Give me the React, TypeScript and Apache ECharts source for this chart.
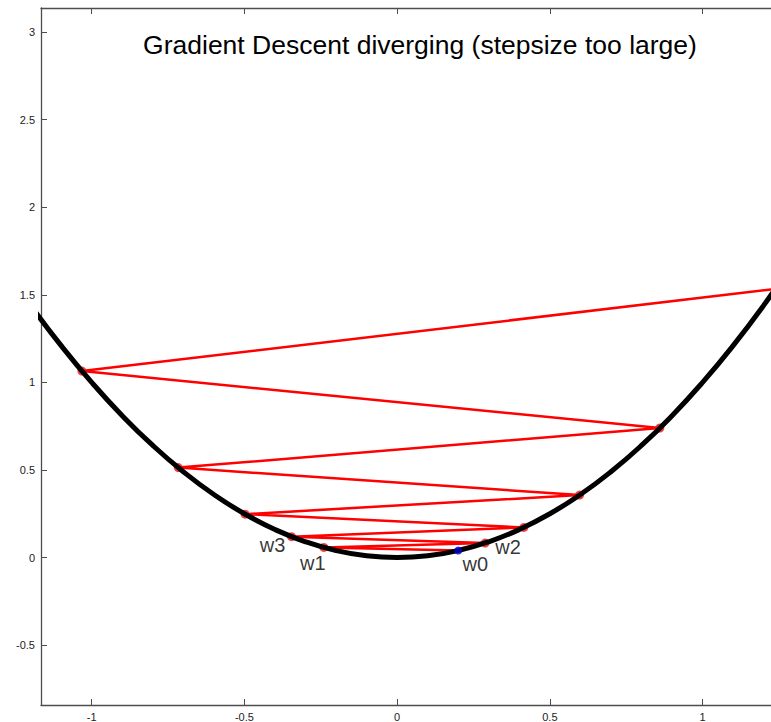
import React, { useEffect, useRef } from "react";
import * as echarts from "echarts";

// Iterates of gradient descent (x = w_k, y = f(w_k))
const iterW = [0.2, -0.24, 0.288, -0.3456, 0.4147, -0.4977, 0.5972, -0.7166, 0.86, -1.032, 1.2383];
const iterF = [0.04, 0.0576, 0.0829, 0.1194, 0.172, 0.2477, 0.3567, 0.5135, 0.7396, 1.065, 1.5335];
// number of iterates whose marker is visible
const visibleMarkers = 10;
// labelled iterates
const labelNames = ["w0", "w1", "w2", "w3"];

// Objective curve f(w) = w^2, read as points
const curveX = [-1.2, -1.1, -1.0, -0.9, -0.8, -0.7, -0.6, -0.5, -0.4, -0.3, -0.2, -0.1, 0, 0.1, 0.2, 0.3, 0.4, 0.5, 0.6, 0.7, 0.8, 0.9, 1.0, 1.1, 1.2, 1.3];
const curveY = [1.44, 1.21, 1.0, 0.81, 0.64, 0.49, 0.36, 0.25, 0.16, 0.09, 0.04, 0.01, 0, 0.01, 0.04, 0.09, 0.16, 0.25, 0.36, 0.49, 0.64, 0.81, 1.0, 1.21, 1.44, 1.69];

const xTicks = [-1, -0.5, 0, 0.5, 1];
const yTicks = [-0.5, 0, 0.5, 1, 1.5, 2, 2.5, 3];
const titleText = "Gradient Descent diverging (stepsize too large)";

const labelOffsets: Record<string, [number, number]> = {
  w0: [17, 13],
  w1: [-11, 16],
  w2: [23, 4],
  w3: [-19, 8],
};

const FONT = "'Liberation Sans', Arial, Helvetica, sans-serif";

export default function App() {
  const ref = useRef<HTMLDivElement>(null);
  useEffect(() => {
    if (!ref.current) return;
    const chart = echarts.init(ref.current, null, { renderer: "svg" });
    const path = iterW.map((w, i) => [w, iterF[i]]);
    const redMarkers = path.slice(1, visibleMarkers);
    const labelData = labelNames.map((n, i) => ({
      value: path[i],
      label: {
        show: true,
        formatter: n,
        position: "inside",
        offset: labelOffsets[n],
        fontSize: 20,
        fontFamily: FONT,
        color: "#000",
      },
    }));
    const axisCommon = {
      type: "value" as const,
      axisLine: { show: true, onZero: false, lineStyle: { color: "#4d4d4d", width: 1.3 } },
      splitLine: { show: false },
    };
    chart.setOption({
      animation: false,
      grid: { left: 41, top: 8, right: 0, bottom: 15, containLabel: false },
      xAxis: [
        {
          ...axisCommon,
          min: -1.166,
          max: 1.224,
          position: "bottom",
          axisTick: { show: true, inside: true, length: 6, customValues: xTicks, lineStyle: { color: "#4d4d4d" } },
          axisLabel: { show: true, customValues: xTicks, margin: 6, fontSize: 11, fontFamily: FONT, color: "#222" },
        },
        {
          ...axisCommon,
          min: -1.166,
          max: 1.224,
          position: "top",
          axisTick: { show: true, inside: true, length: 6, customValues: xTicks, lineStyle: { color: "#4d4d4d" } },
          axisLabel: { show: false },
        },
      ],
      yAxis: [
        {
          ...axisCommon,
          min: -0.842,
          max: 3.138,
          position: "left",
          axisTick: { show: true, inside: true, length: 6, customValues: yTicks, lineStyle: { color: "#4d4d4d" } },
          axisLabel: { show: true, customValues: yTicks, margin: 6, fontSize: 11, fontFamily: FONT, color: "#222" },
        },
      ],
      graphic: [
        {
          type: "text",
          x: 420,
          y: 45,
          style: {
            text: titleText,
            fontSize: 26.5,
            fontFamily: FONT,
            fill: "#000",
            textAlign: "center",
            textVerticalAlign: "middle",
          },
          z: 100,
        },
      ],
      series: [
        {
          type: "line",
          data: path,
          showSymbol: false,
          lineStyle: { color: "#ff0000", width: 2.5 },
          clip: true,
          z: 2,
        },
        {
          type: "scatter",
          data: redMarkers,
          symbol: "circle",
          symbolSize: 9,
          itemStyle: { color: "#f01010" },
          z: 3,
        },
        {
          type: "line",
          data: curveX.map((x, i) => [x, curveY[i]]),
          showSymbol: false,
          smooth: true,
          lineStyle: { color: "#000", width: 5, cap: "round", join: "round" },
          clip: true,
          z: 4,
        },
        {
          type: "scatter",
          data: [path[0]],
          symbol: "circle",
          symbolSize: 8,
          itemStyle: { color: "#0000cc" },
          z: 5,
        },
        {
          type: "scatter",
          data: labelData,
          symbolSize: 0,
          itemStyle: { color: "transparent" },
          z: 6,
        },
      ],
    });
    return () => chart.dispose();
  }, []);
  return (
    <div
      ref={ref}
      style={{ position: "fixed", left: 0, top: 0, width: 771, height: 722, background: "#fff" }}
    />
  );
}
